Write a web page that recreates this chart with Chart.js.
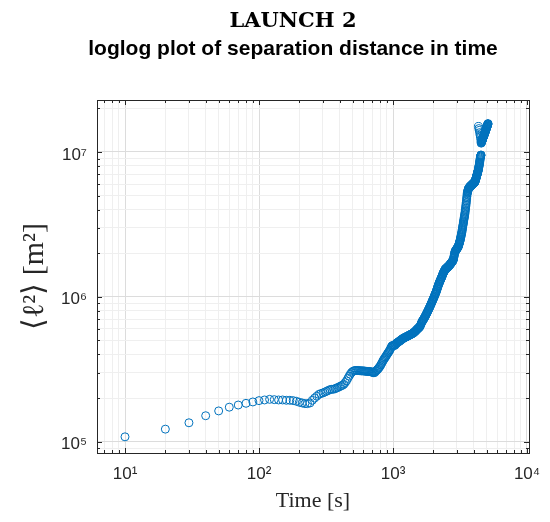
<!DOCTYPE html>
<html>
<head>
<meta charset="utf-8">
<script src="https://cdn.jsdelivr.net/npm/chart.js@4.4.1/dist/chart.umd.min.js"></script>
<style>
  body { margin: 0; background: #fff; }
</style>
</head>
<body>
<canvas id="sepChart" width="550" height="522"></canvas>
<script>
// sampling interval of the record [s]
var dt = 10;

// <l^2> [m^2], one value every dt seconds starting at t = dt
var meanSq = [
  1.08e5, 1.22e5, 1.35e5, 1.51e5, 1.63e5, 1.73e5, 1.79e5, 1.84e5, 1.88e5, 1.92e5,
  1.94e5, 1.96e5, 1.95e5, 1.94e5, 1.94e5, 1.93e5, 1.93e5, 1.92e5, 1.90e5, 1.87e5,
  1.85e5, 1.83e5, 1.83e5, 1.85e5, 1.93e5, 2.00e5, 2.06e5, 2.12e5, 2.15e5, 2.17e5,
  2.20e5, 2.23e5, 2.26e5, 2.29e5, 2.30e5, 2.30e5, 2.32e5, 2.35e5, 2.37e5, 2.40e5,
  2.43e5, 2.45e5, 2.49e5, 2.56e5, 2.63e5, 2.73e5, 2.83e5, 2.92e5, 3.00e5, 3.05e5,
  3.08e5, 3.10e5, 3.10e5, 3.10e5, 3.10e5, 3.09e5, 3.09e5, 3.08e5, 3.08e5, 3.08e5,
  3.07e5, 3.07e5, 3.06e5, 3.06e5, 3.05e5, 3.05e5, 3.05e5, 3.04e5, 3.03e5, 3.02e5,
  3.00e5, 2.99e5, 3.00e5, 3.05e5, 3.09e5, 3.13e5, 3.16e5, 3.21e5, 3.26e5, 3.31e5,
  3.38e5, 3.45e5, 3.52e5, 3.60e5, 3.67e5, 3.73e5, 3.79e5, 3.85e5, 3.92e5, 3.98e5,
  4.05e5, 4.11e5, 4.17e5, 4.24e5, 4.31e5, 4.40e5, 4.49e5, 4.57e5, 4.60e5, 4.62e5,
  4.61e5, 4.61e5, 4.62e5, 4.67e5, 4.72e5, 4.78e5, 4.81e5, 4.83e5, 4.86e5, 4.90e5,
  4.92e5, 4.94e5, 4.98e5, 5.01e5, 5.05e5, 5.07e5, 5.11e5, 5.13e5, 5.16e5, 5.19e5,
  5.21e5, 5.22e5, 5.25e5, 5.27e5, 5.28e5, 5.31e5, 5.32e5, 5.35e5, 5.37e5, 5.38e5,
  5.41e5, 5.42e5, 5.45e5, 5.47e5, 5.48e5, 5.51e5, 5.52e5, 5.55e5, 5.57e5, 5.58e5,
  5.61e5, 5.64e5, 5.66e5, 5.70e5, 5.73e5, 5.77e5, 5.79e5, 5.83e5, 5.87e5, 5.92e5,
  5.96e5, 5.98e5, 6.03e5, 6.05e5, 6.10e5, 6.12e5, 6.17e5, 6.19e5, 6.25e5, 6.32e5,
  6.41e5, 6.50e5, 6.59e5, 6.68e5, 6.76e5, 6.82e5, 6.87e5, 6.92e5, 7.00e5, 7.06e5,
  7.13e5, 7.19e5, 7.28e5, 7.35e5, 7.41e5, 7.50e5, 7.57e5, 7.66e5, 7.73e5, 7.82e5,
  7.89e5, 7.98e5, 8.07e5, 8.15e5, 8.24e5, 8.32e5, 8.41e5, 8.51e5, 8.59e5, 8.69e5,
  8.79e5, 8.89e5, 8.97e5, 9.08e5, 9.18e5, 9.29e5, 9.40e5, 9.48e5, 9.59e5, 9.70e5,
  9.82e5, 9.93e5, 1.00e6, 1.01e6, 1.03e6, 1.04e6, 1.05e6, 1.06e6, 1.07e6, 1.08e6,
  1.10e6, 1.11e6, 1.13e6, 1.14e6, 1.16e6, 1.17e6, 1.19e6, 1.20e6, 1.22e6, 1.23e6,
  1.24e6, 1.26e6, 1.27e6, 1.28e6, 1.29e6, 1.31e6, 1.32e6, 1.33e6, 1.34e6, 1.36e6,
  1.37e6, 1.38e6, 1.40e6, 1.41e6, 1.43e6, 1.44e6, 1.46e6, 1.47e6, 1.48e6, 1.49e6,
  1.50e6, 1.51e6, 1.52e6, 1.54e6, 1.55e6, 1.55e6, 1.56e6, 1.56e6, 1.57e6, 1.57e6,
  1.58e6, 1.58e6, 1.59e6, 1.60e6, 1.60e6, 1.61e6, 1.61e6, 1.61e6, 1.62e6, 1.63e6,
  1.63e6, 1.64e6, 1.65e6, 1.66e6, 1.66e6, 1.67e6, 1.67e6, 1.68e6, 1.69e6, 1.70e6,
  1.71e6, 1.71e6, 1.72e6, 1.73e6, 1.74e6, 1.75e6, 1.75e6, 1.77e6, 1.77e6, 1.78e6,
  1.79e6, 1.80e6, 1.83e6, 1.86e6, 1.89e6, 1.92e6, 1.95e6, 1.99e6, 2.01e6, 2.05e6,
  2.06e6, 2.07e6, 2.07e6, 2.09e6, 2.10e6, 2.11e6, 2.12e6, 2.13e6, 2.14e6, 2.15e6,
  2.16e6, 2.17e6, 2.18e6, 2.19e6, 2.20e6, 2.21e6, 2.22e6, 2.24e6, 2.26e6, 2.29e6,
  2.31e6, 2.33e6, 2.36e6, 2.38e6, 2.40e6, 2.43e6, 2.46e6, 2.49e6, 2.53e6, 2.56e6,
  2.59e6, 2.63e6, 2.67e6, 2.70e6, 2.74e6, 2.78e6, 2.82e6, 2.88e6, 2.92e6, 2.97e6,
  3.03e6, 3.08e6, 3.13e6, 3.18e6, 3.24e6, 3.29e6, 3.34e6, 3.40e6, 3.46e6, 3.52e6,
  3.57e6, 3.63e6, 3.69e6, 3.76e6, 3.84e6, 3.92e6, 4.01e6, 4.09e6, 4.19e6, 4.28e6,
  4.38e6, 4.47e6, 4.58e6, 4.70e6, 4.81e6, 4.93e6, 5.06e6, 5.18e6, 5.24e6, 5.28e6,
  5.33e6, 5.40e6, 5.45e6, 5.51e6, 5.56e6, 5.58e6, 5.60e6, 5.62e6, 5.64e6, 5.66e6,
  5.68e6, 5.70e6, 5.71e6, 5.74e6, 5.75e6, 5.77e6, 5.78e6, 5.79e6, 5.81e6, 5.82e6,
  5.83e6, 5.85e6, 5.86e6, 5.87e6, 5.89e6, 5.90e6, 5.92e6, 5.93e6, 5.94e6, 5.96e6,
  5.97e6, 5.98e6, 6.00e6, 6.01e6, 6.03e6, 6.04e6, 6.05e6, 6.07e6, 6.08e6, 6.10e6,
  6.11e6, 6.12e6, 6.14e6, 6.15e6, 6.17e6, 6.18e6, 6.19e6, 6.22e6, 6.24e6, 6.27e6,
  6.31e6, 6.37e6, 6.41e6, 6.46e6, 6.52e6, 6.56e6, 6.61e6, 6.67e6, 6.71e6, 6.76e6,
  6.81e6, 6.87e6, 6.92e6, 6.98e6, 7.03e6, 7.10e6, 7.14e6, 7.21e6, 7.26e6, 7.33e6,
  7.38e6, 7.45e6, 7.50e6, 7.59e6, 7.67e6, 7.76e6, 7.85e6, 7.94e6, 8.04e6, 8.13e6,
  8.24e6, 8.36e6, 8.47e6, 8.59e6, 8.71e6, 8.83e6, 8.95e6, 9.08e6, 9.20e6, 9.28e6,
  9.36e6, 9.43e6, 9.49e6, 9.53e6, 1.15e7, 1.16e7, 1.16e7, 1.17e7, 1.18e7, 1.19e7,
  1.19e7, 1.20e7, 1.21e7, 1.21e7, 1.22e7, 1.23e7, 1.23e7, 1.24e7, 1.25e7, 1.25e7,
  1.26e7, 1.27e7, 1.27e7, 1.28e7, 1.29e7, 1.29e7, 1.30e7, 1.31e7, 1.31e7, 1.32e7,
  1.33e7, 1.34e7, 1.34e7, 1.35e7, 1.36e7, 1.37e7, 1.37e7, 1.38e7, 1.39e7, 1.40e7,
  1.40e7, 1.41e7, 1.42e7, 1.43e7, 1.44e7, 1.44e7, 1.45e7, 1.46e7, 1.47e7, 1.48e7,
  1.48e7, 1.49e7, 1.50e7, 1.51e7, 1.51e7, 1.52e7, 1.53e7, 1.54e7, 1.55e7, 1.56e7,
  1.56e7, 1.57e7
];

// the few points that sit left of the final hook
var tailTimes = [4340, 4370, 4400, 4430, 4460, 4490, 4520, 4540];
var tailMeanSq = [1.50e7, 1.45e7, 1.41e7, 1.36e7, 1.31e7, 1.27e7, 1.22e7, 1.18e7];

var xTickValues = [10, 100, 1000, 10000];
var xTickLabels = ['10\u00B9', '10\u00B2', '10\u00B3', '10\u2074'];
var yTickValues = [1e5, 1e6, 1e7];
var yTickLabels = ['10\u2075', '10\u2076', '10\u2077'];

var times = meanSq.map(function (v, i) { return dt * (i + 1); });

var blue = '#0072BD';
var axisGray = '#262626';

// 'major' for powers of ten, 'minor' for 2..9 x 10^n
function tickKind(v) {
  var e = Math.floor(Math.log10(v) + 1e-9);
  var m = v / Math.pow(10, e);
  if (Math.abs(m - 1) < 1e-6) return 'major';
  if (Math.abs(m - Math.round(m)) < 1e-6) return 'minor';
  return 'none';
}

function labelFor(values, labels) {
  return function (value) {
    for (var i = 0; i < values.length; i++) {
      if (Math.abs(value / values[i] - 1) < 1e-6) return labels[i];
    }
    return '';
  };
}

function gridColor(c) {
  if (!c.tick) return 'rgba(0,0,0,0)';
  var k = tickKind(c.tick.value);
  if (k === 'major') return '#dcdcdc';
  if (k === 'minor') return '#efefef';
  return 'rgba(0,0,0,0)';
}

// box round the axes with inward ticks, like matlab
var boxPlugin = {
  id: 'box',
  afterDatasetsDraw: function (chart) {
    var ctx = chart.ctx, a = chart.chartArea;
    var xs = chart.scales.x, ys = chart.scales.y;
    ctx.save();
    ctx.strokeStyle = axisGray;
    ctx.lineWidth = 1;
    ctx.beginPath();
    xs.ticks.forEach(function (t) {
      var k = tickKind(t.value);
      if (k === 'none') return;
      var len = k === 'major' ? 5 : 3;
      var px = Math.round(xs.getPixelForValue(t.value)) + 0.5;
      ctx.moveTo(px, a.bottom); ctx.lineTo(px, a.bottom - len);
      ctx.moveTo(px, a.top); ctx.lineTo(px, a.top + len);
    });
    ys.ticks.forEach(function (t) {
      var k = tickKind(t.value);
      if (k === 'none') return;
      var len = k === 'major' ? 5 : 3;
      var py = Math.round(ys.getPixelForValue(t.value)) + 0.5;
      ctx.moveTo(a.left, py); ctx.lineTo(a.left + len, py);
      ctx.moveTo(a.right, py); ctx.lineTo(a.right - len, py);
    });
    ctx.stroke();
    ctx.strokeRect(Math.round(a.left) + 0.5, Math.round(a.top) + 0.5,
      Math.round(a.right - a.left), Math.round(a.bottom - a.top));
    ctx.restore();
  }
};

var ctxS = document.getElementById('sepChart').getContext('2d');
var sepChart = new Chart(ctxS, {
  type: 'scatter',
  data: {
    datasets: [{
        data: times.map(function (t, i) { return { x: t, y: meanSq[i] }; }),
        borderColor: blue,
        backgroundColor: 'rgba(0,0,0,0)',
        pointRadius: 4,
        pointBorderWidth: 1
      },
      {
        data: tailTimes.map(function (t, i) { return { x: t, y: tailMeanSq[i] }; }),
        borderColor: blue,
        backgroundColor: 'rgba(0,0,0,0)',
        pointRadius: 4,
        pointBorderWidth: 1
      }
    ]
  },
  options: {
    responsive: false,
    animation: false,
    layout: { padding: { left: 57, right: 21, top: 0, bottom: 0 } },
    plugins: {
      legend: { display: false },
      tooltip: { enabled: false },
      title: {
        display: true,
        text: 'LAUNCH 2',
        color: '#000',
        font: { family: 'DejaVu Serif', size: 21, weight: 'bold' },
        padding: { top: 9.4, bottom: 0 }
      },
      subtitle: {
        display: true,
        text: 'loglog plot of separation distance in time',
        color: '#000',
        font: { family: 'Liberation Sans', size: 21, weight: 'bold' },
        padding: { top: 2.3, bottom: 37.9 }
      }
    },
    scales: {
      x: {
        type: 'logarithmic',
        min: 6.18,
        max: 10350,
        afterFit: function (scale) { scale.height = 69; },
        grid: { color: gridColor, drawTicks: false },
        border: { display: false },
        ticks: {
          autoSkip: false,
          maxRotation: 0,
          padding: 11,
          color: axisGray,
          font: { family: 'Liberation Sans', size: 17 },
          callback: labelFor(xTickValues, xTickLabels)
        },
        title: {
          display: true,
          text: 'Time [s]',
          color: axisGray,
          font: { family: 'Liberation Serif', size: 22 },
          padding: { top: 0, bottom: 8 }
        }
      },
      y: {
        type: 'logarithmic',
        min: 8.35e4,
        max: 2.284e7,
        afterFit: function (scale) { scale.width = 40; },
        grid: { color: gridColor, drawTicks: false },
        border: { display: false },
        ticks: {
          autoSkip: false,
          padding: 10,
          labelOffset: 3,
          color: axisGray,
          font: { family: 'Liberation Sans', size: 17 },
          callback: labelFor(yTickValues, yTickLabels)
        },
        title: {
          display: true,
          text: '\u27E8\u2113\u00B2\u27E9 [m\u00B2]',
          color: axisGray,
          font: { family: 'Liberation Serif', size: 30 },
          padding: { top: -40, bottom: 0 }
        }
      }
    }
  },
  plugins: [boxPlugin]
});
</script>
</body>
</html>
